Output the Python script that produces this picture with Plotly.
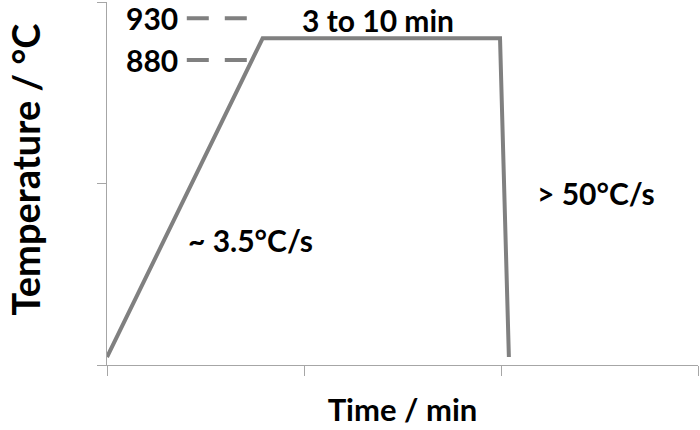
import plotly.graph_objects as go

# heat-treatment profile (schematic units)
time_pts = [0.0, 0.79, 1.995, 2.04]
temp_pts = [0.044, 1.80, 1.80, 0.044]

# dashed reference marks for 930 and 880
ref_labels = ["930", "880"]
ref_levels = [1.91, 1.68]
ref_x = [0.405, 0.715]

font_name = "Lato"
grey = "#808080"
fs = 30

fig = go.Figure()
fig.add_trace(go.Scatter(x=time_pts, y=temp_pts, mode="lines",
                         line=dict(color=grey, width=4), showlegend=False,
                         hoverinfo="skip"))
for lab, lev in zip(ref_labels, ref_levels):
    fig.add_trace(go.Scatter(x=ref_x, y=[lev, lev], mode="lines",
                             line=dict(color=grey, width=4, dash="22px,16px"),
                             showlegend=False, hoverinfo="skip"))
    fig.add_annotation(x=ref_x[0], y=lev, text="<b>" + lab + "</b>",
                       showarrow=False, xanchor="right", xshift=-8,
                       borderpad=0,
                       font=dict(family=font_name, size=fs, color="black"))

fig.add_annotation(x=1.376, y=1.90, text="<b>3 to 10 min</b>", showarrow=False,
                   borderpad=0,
                   font=dict(family=font_name, size=fs, color="black"))
fig.add_annotation(x=0.73, y=0.69, text="<b>~ 3.5°C/s</b>", showarrow=False,
                   font=dict(family=font_name, size=fs, color="black"))
fig.add_annotation(x=2.48, y=0.95, text="<b>> 50°C/s</b>", showarrow=False,
                   font=dict(family=font_name, size=fs, color="black"))

# y axis title (larger than the other texts in the original)
fig.add_annotation(xref="paper", yref="paper", x=-0.138, y=0.54,
                   text="<b>Temperature / °C</b>", textangle=-90,
                   showarrow=False, xanchor="center", yanchor="middle",
                   borderpad=0,
                   font=dict(family=font_name, size=38, color="black"))

fig.update_layout(
    width=700, height=430,
    margin=dict(l=107, r=2, t=2, b=65, autoexpand=False),
    plot_bgcolor="white", paper_bgcolor="white",
    font=dict(family=font_name, size=fs, color="black"),
    showlegend=False,
)
fig.update_xaxes(range=[0, 3], tickvals=[0, 1, 2, 3], showticklabels=False,
                 ticks="outside", ticklen=10, tickcolor="#a6a6a6",
                 showline=True, linecolor="#a6a6a6", linewidth=1,
                 showgrid=False, zeroline=False, automargin=False,
                 title=dict(text="<b>Time / min</b>", standoff=24,
                            font=dict(family=font_name, size=31)))
fig.update_yaxes(range=[0, 2], tickvals=[0, 1, 2], showticklabels=False,
                 ticks="outside", ticklen=9, tickcolor="#a6a6a6",
                 showline=True, linecolor="#a6a6a6", linewidth=1,
                 showgrid=False, zeroline=False, automargin=False)

fig.write_html("out.html", config={"responsive": False, "displayModeBar": False},
               post_script="document.body.style.margin='0px';")
